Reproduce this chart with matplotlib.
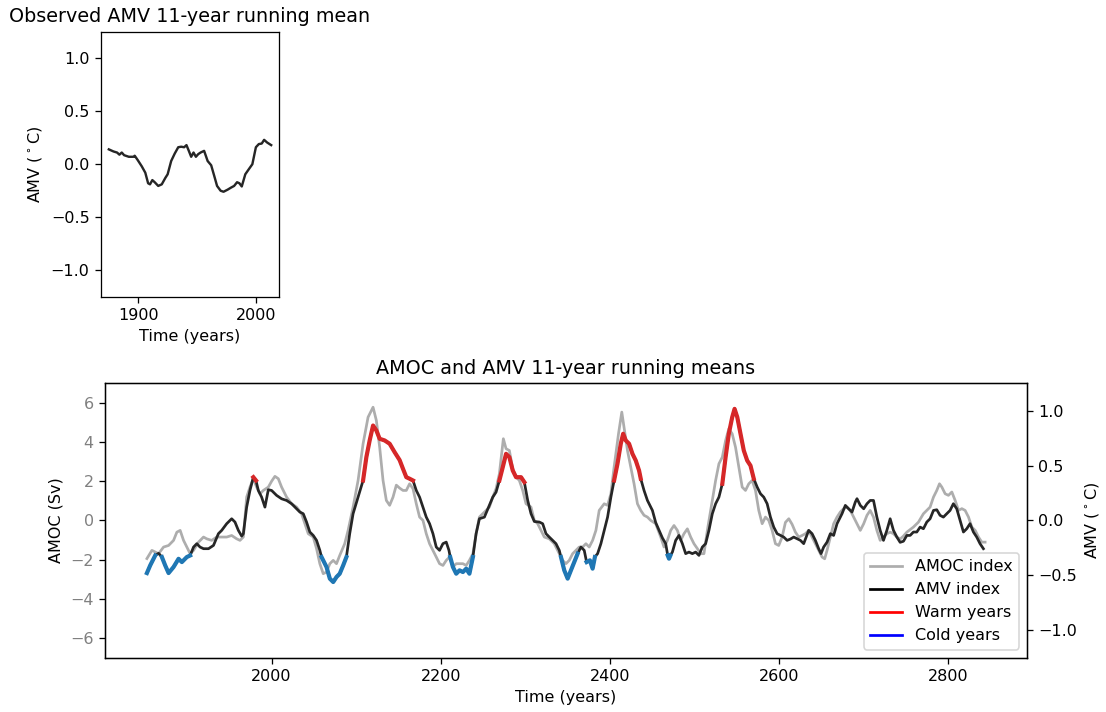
import numpy as np
import matplotlib
matplotlib.use("Agg")
import matplotlib.pyplot as plt
from matplotlib.lines import Line2D

# ---------------- data ----------------
obs_years = [1875, 1879, 1882, 1884, 1886, 1888, 1892, 1896, 1897, 1899.5, 1903, 1906,
             1908.4, 1910, 1912, 1914, 1917, 1920, 1923, 1925, 1928, 1931, 1934, 1936.5,
             1939, 1941, 1943, 1945, 1947, 1949, 1951, 1953, 1956, 1959, 1962, 1965, 1967,
             1970, 1972.5, 1976, 1979, 1981.5, 1984, 1986, 1988, 1991, 1994, 1997, 2000,
             2002.5, 2005, 2007, 2009.5, 2013]
obs_amv = [0.14, 0.12, 0.11, 0.09, 0.11, 0.085, 0.07, 0.07, 0.08, 0.04, -0.02, -0.08,
           -0.18, -0.19, -0.15, -0.17, -0.205, -0.19, -0.13, -0.095, 0.03, 0.10, 0.16, 0.165,
           0.16, 0.18, 0.126, 0.07, 0.11, 0.07, 0.095, 0.11, 0.126, 0.03, -0.01, -0.126, -0.205,
           -0.25, -0.26, -0.24, -0.22, -0.205, -0.17, -0.18, -0.21, -0.095, -0.047, 0.0, 0.16,
           0.19, 0.195, 0.23, 0.205, 0.18]

amv_years = [1852.6, 1856.5, 1862.4, 1866.4, 1870.3, 1874.2, 1878.2, 1884.1, 1890.0, 1893.9,
             1899.8, 1903.7, 1907.7, 1911.6, 1915.4, 1919.5, 1925.4, 1931.3, 1937.1, 1941.0,
             1946.9, 1952.8, 1956.7, 1960.7, 1964.6, 1966.6, 1970.5, 1974.4, 1978.4, 1981.5,
             1984.3, 1988.2, 1992.1, 1996.1, 2000.0, 2005.9, 2011.8, 2017.7, 2023.6, 2029.5,
             2033.4, 2037.4, 2041.3, 2045.2, 2049.2, 2053.1, 2057.0, 2059.0, 2064.9, 2068.8,
             2072.8, 2076.7, 2080.5, 2084.6, 2088.4, 2092.3, 2096.3, 2102.2, 2108.1, 2112.0,
             2115.9, 2119.9, 2123.8, 2127.7, 2133.6, 2139.5, 2145.4, 2151.3, 2155.3, 2159.2,
             2163.1, 2167.1, 2171.0, 2174.9, 2178.9, 2182.8, 2186.7, 2190.7, 2194.6, 2198.5,
             2202.5, 2206.4, 2209.6, 2211.1, 2214.3, 2218.2, 2222.1, 2226.1, 2230.0, 2233.8,
             2237.9, 2241.7, 2245.6, 2251.5, 2257.4, 2261.4, 2265.3, 2269.2, 2273.2, 2277.1,
             2281.0, 2285.0, 2288.9, 2294.8, 2298.7, 2302.7, 2306.6, 2310.5, 2316.4, 2320.4,
             2324.3, 2328.2, 2332.2, 2336.1, 2340.0, 2342.0, 2345.9, 2349.9, 2353.8, 2357.7,
             2361.7, 2365.6, 2369.5, 2372.3, 2376.2, 2379.4, 2382.1, 2385.3, 2389.2, 2393.1,
             2397.1, 2401.0, 2404.8, 2408.8, 2412.7, 2415.5, 2418.6, 2422.5, 2426.5, 2430.4,
             2434.3, 2436.3, 2440.2, 2444.2, 2450.1, 2454.0, 2457.9, 2461.9, 2465.8, 2468.2,
             2469.7, 2471.3, 2473.7, 2477.6, 2481.5, 2485.5, 2489.4, 2493.3, 2497.3, 2501.2,
             2505.1, 2509.1, 2513.0, 2516.9, 2520.9, 2524.8, 2528.7, 2532.7, 2536.6, 2540.4,
             2544.4, 2547.2, 2550.4, 2554.2, 2558.1, 2562.1, 2566.0, 2569.9, 2573.9, 2577.8,
             2581.7, 2585.7, 2589.6, 2593.5, 2597.5, 2601.4, 2605.3, 2609.3, 2613.2, 2617.1,
             2621.1, 2625.0, 2628.9, 2634.8, 2638.8, 2642.7, 2646.6, 2649.4, 2652.5, 2656.5,
             2660.4, 2664.3, 2668.3, 2674.2, 2678.1, 2682.0, 2686.0, 2689.9, 2691.9, 2695.8,
             2699.8, 2703.7, 2707.5, 2711.4, 2715.4, 2719.3, 2723.2, 2727.2, 2731.1, 2735.0,
             2739.0, 2742.9, 2746.8, 2750.8, 2754.7, 2758.6, 2762.6, 2766.5, 2770.4, 2774.4,
             2778.3, 2782.3, 2786.2, 2790.1, 2794.0, 2798.0, 2801.9, 2805.8, 2809.8, 2813.7,
             2817.7, 2821.6, 2825.5, 2829.5, 2833.4, 2837.3, 2841.3]
amv_vals = [-0.48, -0.41, -0.32, -0.30, -0.334, -0.41, -0.48, -0.425, -0.35, -0.38,
            -0.334, -0.32, -0.243, -0.212, -0.243, -0.258, -0.258, -0.228, -0.121, -0.091,
            -0.03, 0.015, -0.015, -0.091, -0.143, -0.121, 0.121, 0.273, 0.394, 0.364,
            0.273, 0.212, 0.121, 0.28, 0.273, 0.228, 0.197, 0.182, 0.152, 0.106,
            0.076, 0.061, -0.015, -0.106, -0.137, -0.182, -0.273, -0.334, -0.425, -0.531,
            -0.562, -0.516, -0.486, -0.41, -0.334, -0.121, 0.061, 0.212, 0.364, 0.577,
            0.729, 0.865, 0.82, 0.744, 0.729, 0.699, 0.622, 0.55, 0.47, 0.394,
            0.38, 0.364, 0.273, 0.212, 0.121, 0.03, -0.03, -0.121, -0.243, -0.273,
            -0.212, -0.198, -0.273, -0.334, -0.425, -0.486, -0.455, -0.471, -0.44, -0.486,
            -0.334, -0.121, 0.015, 0.03, 0.137, 0.212, 0.258, 0.364, 0.485, 0.607,
            0.577, 0.455, 0.394, 0.394, 0.349, 0.182, 0.061, -0.01, -0.015, -0.03,
            -0.121, -0.152, -0.182, -0.212, -0.273, -0.334, -0.455, -0.531, -0.455, -0.38,
            -0.303, -0.243, -0.273, -0.38, -0.364, -0.44, -0.334, -0.303, -0.212, -0.091,
            0.03, 0.212, 0.364, 0.516, 0.699, 0.79, 0.729, 0.699, 0.607, 0.546,
            0.455, 0.38, 0.273, 0.182, 0.091, -0.02, -0.09, -0.16, -0.212, -0.32,
            -0.349, -0.32, -0.289, -0.182, -0.137, -0.212, -0.303, -0.289, -0.303, -0.289,
            -0.319, -0.243, -0.212, -0.091, 0.061, 0.152, 0.212, 0.334, 0.577, 0.79,
            0.941, 1.017, 0.941, 0.79, 0.637, 0.546, 0.50, 0.38, 0.304, 0.243,
            0.212, 0.152, 0.03, -0.061, -0.121, -0.137, -0.152, -0.182, -0.17, -0.152,
            -0.167, -0.182, -0.212, -0.091, -0.121, -0.182, -0.258, -0.303, -0.243, -0.198,
            -0.121, -0.137, -0.03, 0.061, 0.137, 0.106, 0.076, 0.167, 0.198, 0.137,
            0.106, 0.152, 0.182, 0.182, 0.03, -0.091, -0.182, -0.091, 0.015, -0.091,
            -0.152, -0.2, -0.19, -0.137, -0.137, -0.106, -0.106, -0.061, -0.076, -0.015,
            0.015, 0.091, 0.097, 0.046, 0.03, 0.061, 0.091, 0.152, 0.106, 0.0,
            -0.106, -0.076, -0.03, -0.106, -0.152, -0.212, -0.258]

amoc_years = [1852.6, 1858.5, 1866.4, 1872.3, 1878.2, 1884.1, 1888.0, 1891.9, 1895.9, 1899.8,
              1903.7, 1907.7, 1913.6, 1919.5, 1923.3, 1929.2, 1935.1, 1941.0, 1946.9, 1952.8,
              1958.7, 1962.6, 1966.6, 1970.5, 1974.4, 1978.4, 1982.3, 1986.2, 1990.2, 1996.1,
              2000.0, 2003.9, 2007.9, 2011.8, 2017.7, 2023.6, 2029.5, 2035.4, 2039.3, 2043.3,
              2049.2, 2053.1, 2057.0, 2061.0, 2064.9, 2068.8, 2072.8, 2076.7, 2080.5, 2086.4,
              2090.4, 2096.3, 2102.2, 2108.1, 2114.0, 2119.9, 2123.8, 2127.7, 2131.7, 2135.6,
              2139.5, 2143.5, 2147.4, 2151.3, 2155.3, 2159.2, 2163.1, 2167.1, 2171.0, 2174.9,
              2178.9, 2182.8, 2186.7, 2190.7, 2194.6, 2198.5, 2202.5, 2206.4, 2210.3, 2214.3,
              2218.2, 2222.1, 2226.1, 2230.0, 2233.8, 2237.9, 2241.7, 2245.6, 2249.6, 2253.5,
              2257.4, 2261.4, 2265.3, 2269.2, 2272.4, 2273.9, 2277.1, 2281.0, 2285.0, 2288.9,
              2292.8, 2296.8, 2300.7, 2306.6, 2310.5, 2314.5, 2318.4, 2322.3, 2328.2, 2334.1,
              2340.0, 2344.0, 2347.9, 2351.8, 2355.8, 2359.7, 2363.6, 2367.6, 2371.5, 2375.4,
              2379.4, 2383.3, 2387.2, 2393.1, 2397.1, 2401.0, 2404.8, 2410.0, 2413.9, 2417.1,
              2420.6, 2424.5, 2428.4, 2432.4, 2436.3, 2440.2, 2444.2, 2448.1, 2454.0, 2459.9,
              2463.8, 2467.8, 2471.7, 2475.6, 2479.6, 2483.5, 2487.4, 2491.4, 2495.3, 2499.2,
              2503.2, 2507.1, 2511.0, 2515.0, 2520.9, 2524.8, 2528.7, 2532.7, 2536.6, 2540.4,
              2544.4, 2548.3, 2552.2, 2556.2, 2560.1, 2564.0, 2568.0, 2571.9, 2575.8, 2579.8,
              2583.7, 2587.6, 2591.6, 2595.5, 2599.4, 2603.4, 2607.3, 2611.3, 2615.2, 2619.1,
              2623.0, 2627.0, 2630.9, 2634.8, 2638.8, 2642.7, 2646.6, 2650.6, 2653.7, 2656.5,
              2660.4, 2664.3, 2668.3, 2672.2, 2676.1, 2680.1, 2684.0, 2687.9, 2691.9, 2695.8,
              2699.8, 2703.7, 2707.5, 2711.4, 2715.4, 2719.3, 2723.2, 2727.2, 2731.1, 2735.0,
              2739.0, 2742.9, 2746.8, 2750.8, 2758.6, 2764.5, 2770.4, 2774.4, 2778.3, 2782.3,
              2786.2, 2789.4, 2792.2, 2796.1, 2800.0, 2804.0, 2807.9, 2811.9, 2815.8, 2819.7,
              2823.7, 2827.6, 2831.6, 2835.5, 2839.4, 2843.3]
amoc_vals = [-1.95, -1.53, -1.70, -1.36, -1.28, -1.02, -0.60, -0.51, -1.02, -1.36,
             -1.70, -1.53, -1.11, -0.85, -0.94, -1.02, -0.85, -0.85, -0.85, -0.77,
             -0.94, -1.02, -0.85, 1.19, 1.70, 2.13, 1.70, 1.36, 1.53, 1.70,
             2.0, 2.25, 2.13, 1.70, 1.19, 0.85, 0.68, 0.34, -0.17, -0.68,
             -0.85, -1.44, -2.21, -2.72, -2.64, -2.21, -2.04, -2.21, -1.79, -1.19,
             -0.51, 0.68, 2.04, 3.91, 5.27, 5.78, 5.10, 3.74, 2.04, 1.02,
             0.77, 1.19, 1.80, 1.65, 1.53, 1.53, 1.87, 1.62, 0.85, 0.17,
             0.0, -0.68, -1.19, -1.53, -1.87, -2.21, -2.30, -2.04, -1.87, -2.38,
             -2.21, -2.21, -2.21, -2.30, -2.04, -1.70, -0.68, 0.17, 0.34, 0.51,
             0.68, 1.19, 1.62, 2.38, 3.57, 4.17, 3.66, 3.57, 2.64, 2.21,
             2.04, 1.53, 0.85, 0.68, 0.0, -0.17, -0.51, -0.85, -0.94, -1.19,
             -1.70, -2.04, -2.21, -2.04, -1.70, -1.53, -1.36, -1.36, -1.19, -1.36,
             -1.02, -0.51, 0.51, 0.85, 0.77, 1.36, 2.72, 4.42, 5.53, 4.59,
             3.57, 2.72, 1.87, 0.85, 0.51, 0.26, 0.17, 0.0, -0.17, -0.85,
             -1.36, -1.02, -0.51, -0.26, -0.51, -1.02, -0.68, -0.43, -0.85, -1.19,
             -1.44, -1.70, -1.70, -0.51, 1.02, 2.04, 2.89, 3.23, 4.08, 4.68,
             4.42, 3.74, 2.72, 1.70, 1.53, 1.87, 2.04, 1.53, 0.51, -0.17,
             0.17, 0.0, -0.51, -1.19, -1.28, -0.85, -0.10, 0.085, -0.20, -0.60,
             -0.85, -0.77, -0.68, -0.51, -0.85, -1.19, -1.53, -1.87, -1.96, -1.53,
             -0.85, -0.17, 0.17, 0.43, 0.60, 0.68, 0.51, 0.17, -0.17, -0.51,
             -0.17, 0.26, 0.51, 0.17, -0.51, -1.02, -0.85, -0.68, -0.60, -0.68,
             -0.85, -0.95, -0.80, -0.60, -0.34, -0.09, 0.34, 0.51, 0.68, 1.19,
             1.53, 1.87, 1.70, 1.36, 1.28, 1.45, 1.02, 0.51, 0.60, 0.51,
             0.17, -0.34, -0.51, -0.85, -1.11, -1.11]

warm_periods = [(1977, 1982), (2108, 2168), (2269, 2299), (2404, 2437), (2532, 2570)]
cold_periods = [(1852, 1863), (1870, 1904), (2059, 2089), (2211, 2238),
                (2342, 2362), (2372, 2383), (2468, 2472)]

# ---------------- figure ----------------
DPI = 115
fig = plt.figure(figsize=(1106 / DPI, 712 / DPI), dpi=DPI)

ax1 = fig.add_axes([100.7 / 1106, 1 - 296.7 / 712, 178.6 / 1106, 265 / 712])
ax1.plot(obs_years, obs_amv, color='0.15', lw=1.5)
ax1.set_ylim(-1.25, 1.25)
ax1.set_xticks([1900, 2000])
ax1.set_xlabel('Time (years)')
ax1.set_ylabel(r'AMV ($^\circ$C)')
ax1.set_title('Observed AMV 11-year running mean')

ax2 = fig.add_axes([105 / 1106, 1 - 657.5 / 712, 922 / 1106, 274.2 / 712])
ax2.plot(amoc_years, amoc_vals, color='0.68', lw=1.7)
ax2.set_ylim(-7, 7)
ax2.set_ylabel('AMOC (Sv)')
ax2.set_xlabel('Time (years)')
ax2.tick_params(axis='y', labelcolor='gray')
ax2.set_title('AMOC and AMV 11-year running means')

ax3 = ax2.twinx()
ay = np.array(amv_years)
av = np.array(amv_vals)
ax3.plot(ay, av, color='0.15', lw=1.7)
for a, b in warm_periods:
    m = (ay >= a) & (ay <= b)
    ax3.plot(ay[m], av[m], color='tab:red', lw=2.6)
for a, b in cold_periods:
    m = (ay >= a) & (ay <= b)
    ax3.plot(ay[m], av[m], color='tab:blue', lw=2.6)
ax3.set_ylim(-1.25, 1.25)
ax3.set_ylabel(r'AMV ($^\circ$C)')
ax2.set_xticks([2000, 2200, 2400, 2600, 2800])

handles = [Line2D([], [], color='0.68', lw=1.7),
           Line2D([], [], color='k', lw=1.7),
           Line2D([], [], color='red', lw=1.7),
           Line2D([], [], color='blue', lw=1.7)]
ax3.legend(handles, ['AMOC index', 'AMV index', 'Warm years', 'Cold years'],
           loc='lower right')

fig.savefig('out.png', dpi=DPI)
